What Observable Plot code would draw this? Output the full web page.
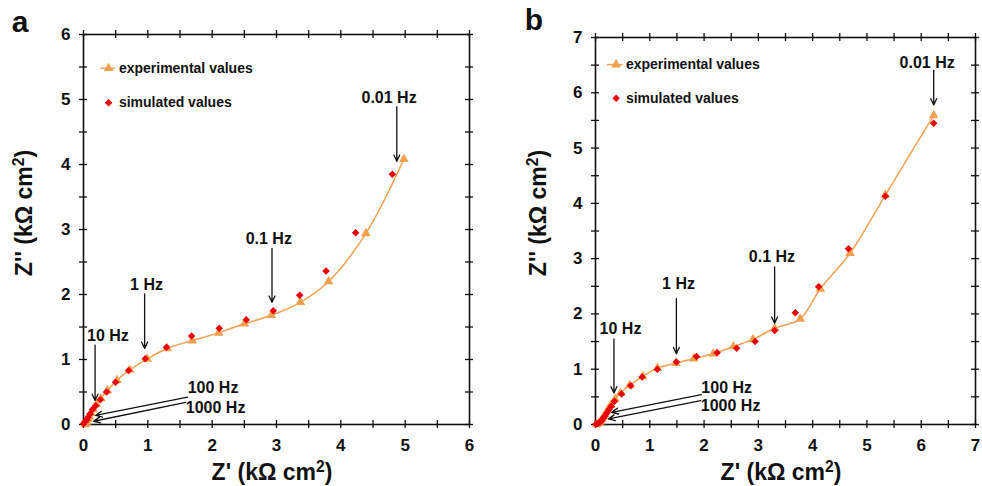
<!DOCTYPE html>
<html>
<head>
<meta charset="utf-8">
<script src="https://cdn.jsdelivr.net/npm/d3@7"></script>
<script src="https://cdn.jsdelivr.net/npm/@observablehq/plot@0.6"></script>
<style>
  html, body { margin: 0; padding: 0; background: #fff; }
  #wrap { position: relative; width: 982px; height: 486px; overflow: hidden; font-family: "Liberation Sans", Arial, sans-serif; }
  .panel { position: absolute; top: 0; }
  .lbl { position: absolute; font-weight: bold; color: #111; white-space: nowrap; line-height: 1; }
  .lbl sup { font-size: 0.68em; vertical-align: 0.5em; line-height: 0; }
  .xt { font-size: 23px; transform: translate(-50%, -50%); }
  .yt { font-size: 23px; transform: translate(-50%, -50%) rotate(-90deg); }
  .let { font-size: 30px; transform: translate(-50%, -50%); }
</style>
</head>
<body>
<div id="wrap">
  <div id="pa" class="panel" style="left:0px"></div>
  <div id="pb" class="panel" style="left:490px"></div>
  <div class="lbl let" style="left:20px; top:22px">a</div>
  <div class="lbl let" style="left:534px; top:20px">b</div>
  <div class="lbl xt" style="left:272px; top:472px">Z' (kΩ cm<sup>2</sup>)</div>
  <div class="lbl xt" style="left:781px; top:472px">Z' (kΩ cm<sup>2</sup>)</div>
  <div class="lbl yt" style="left:24px; top:213px">Z'' (kΩ cm<sup>2</sup>)</div>
  <div class="lbl yt" style="left:538px; top:213px">Z'' (kΩ cm<sup>2</sup>)</div>
</div>
<script>
// ---------- Panel a data ----------
const aExpX = [0.03,0.05,0.07,0.09,0.12,0.15,0.20,0.27,0.37,0.52,0.72,0.99,1.30,1.69,2.10,2.50,2.92,3.37,3.81,4.39,4.98];
const aExpY = [0.00,0.04,0.08,0.12,0.17,0.23,0.31,0.40,0.52,0.68,0.84,1.01,1.17,1.29,1.41,1.55,1.68,1.88,2.20,2.94,4.08];
const aSimX = [0.00,0.02,0.05,0.07,0.10,0.14,0.19,0.26,0.36,0.50,0.70,0.96,1.29,1.68,2.11,2.53,2.95,3.36,3.77,4.23,4.80];
const aSimY = [0.01,0.04,0.07,0.11,0.16,0.23,0.29,0.38,0.50,0.65,0.83,1.01,1.19,1.36,1.48,1.61,1.75,1.99,2.36,2.95,3.85];

// ---------- Panel b data ----------
const bExpX = [0.02,0.06,0.09,0.12,0.15,0.18,0.22,0.28,0.36,0.46,0.63,0.87,1.14,1.48,1.81,2.17,2.54,2.90,3.30,3.77,4.14,4.69,5.34,6.23];
const bExpY = [0.00,0.02,0.05,0.09,0.14,0.19,0.26,0.35,0.46,0.57,0.71,0.87,1.02,1.11,1.19,1.28,1.41,1.54,1.74,1.91,2.45,3.10,4.15,5.59];
const bSimX = [0.01,0.04,0.08,0.11,0.14,0.17,0.21,0.25,0.29,0.35,0.48,0.65,0.86,1.14,1.49,1.86,2.24,2.60,2.94,3.30,3.68,4.11,4.66,5.34,6.23];
const bSimY = [0.01,0.02,0.04,0.07,0.11,0.15,0.21,0.27,0.33,0.42,0.55,0.70,0.86,1.00,1.13,1.23,1.30,1.38,1.50,1.70,2.02,2.49,3.18,4.13,5.45];

// ---------- Frequency annotations ----------
const freqLabels = ["0.01 Hz", "0.1 Hz", "1 Hz", "10 Hz", "100 Hz", "1000 Hz"];
const freqAnchor = ["middle", "middle", "middle", "middle", "start", "start"];
const aLabelX = [4.75, 2.88, 0.98, 0.38, 1.62, 1.59];
const aLabelY = [5.02, 2.86, 2.15, 1.37, 0.56, 0.26];
const aArrX1 = [4.87, 2.93, 0.95, 0.18, 1.62, 1.59];
const aArrY1 = [4.89, 2.71, 2.01, 1.22, 0.42, 0.34];
const aArrX2 = [4.87, 2.93, 0.95, 0.18, 0.19, 0.16];
const aArrY2 = [4.05, 1.88, 1.17, 0.37, 0.14, 0.05];

const bLabelX = [6.11, 3.25, 1.53, 0.46, 1.95, 1.94];
const bLabelY = [6.55, 3.04, 2.55, 1.73, 0.67, 0.33];
const bArrX1 = [6.23, 3.30, 1.49, 0.34, 1.95, 1.94];
const bArrY1 = [6.41, 2.85, 2.28, 1.55, 0.54, 0.43];
const bArrX2 = [6.23, 3.30, 1.49, 0.34, 0.30, 0.24];
const bArrY2 = [5.78, 1.83, 1.28, 0.57, 0.22, 0.10];

// ---------- Legend ----------
const legendLabels = ["experimental values", "simulated values"];
const aLegend = {lineX1: 0.27, lineX2: 0.50, symX: 0.39, textX: 0.55, y: [5.48, 4.95]};
const bLegend = {lineX1: 0.22, lineX2: 0.51, symX: 0.38, textX: 0.56, y: [6.51, 5.90]};

// ---------- Axes ----------
const aMax = 6, bMax = 7;
const aTicks = d3.range(0, aMax + 1, 1);
const bTicks = d3.range(0, bMax + 1, 1);
const aMinor = d3.range(0, aMax + 0.01, 0.5);
const bMinor = d3.range(0, bMax + 0.01, 0.5);

const expColor = "#F0A050";
const simColor = "#E8000B";

function zip(xs, ys) { return xs.map((x, i) => ({x, y: ys[i]})); }

function panel(cfg) {
  const {width, height, mt, mr, mb, ml, max, ticks, minor, expX, expY, simX, simY,
         labX, labY, ax1, ay1, ax2, ay2, legend, curve} = cfg;
  const pw = width - ml - mr, ph = height - mt - mb;
  const exp = zip(expX, expY), sim = zip(simX, simY);
  const ann = freqLabels.map((t, i) => ({t, anchor: freqAnchor[i], x: labX[i], y: labY[i],
    x1: ax1[i], y1: ay1[i], x2: ax2[i], y2: ay2[i]}));
  const tk = 4;
  return Plot.plot({
    width, height, marginTop: mt, marginRight: mr, marginBottom: mb, marginLeft: ml,
    style: {fontFamily: "Liberation Sans, Arial, sans-serif", fontWeight: "bold", fontSize: "17px", color: "#111", background: "white", overflow: "visible"},
    x: {domain: [0, max]},
    y: {domain: [0, max]},
    marks: [
      Plot.axisX({ticks, tickSize: 0, tickPadding: 14, tickFormat: "d", label: null, fontSize: 17, fontWeight: "bold"}),
      Plot.axisY({ticks, tickSize: 0, tickPadding: 13, tickFormat: "d", label: null, fontSize: 17, fontWeight: "bold"}),
      // crossing ticks on all four sides
      Plot.ruleX(minor, {x: d => d, insetTop: ph - tk, insetBottom: -tk, stroke: "#111", strokeWidth: 1.3}),
      Plot.ruleX(minor, {x: d => d, insetTop: -tk, insetBottom: ph - tk, stroke: "#111", strokeWidth: 1.3}),
      Plot.ruleY(minor, {y: d => d, insetLeft: -tk, insetRight: pw - tk, stroke: "#111", strokeWidth: 1.3}),
      Plot.ruleY(minor, {y: d => d, insetLeft: pw - tk, insetRight: -tk, stroke: "#111", strokeWidth: 1.3}),
      Plot.frame({stroke: "#111", strokeWidth: 1.6}),
      // data
      Plot.line(exp, {x: "x", y: "y", stroke: expColor, strokeWidth: 1.5, curve}),
      Plot.dot(exp, {x: "x", y: "y", symbol: "triangle", r: 3.6, fill: expColor}),
      Plot.dot(sim, {x: "x", y: "y", symbol: "diamond2", r: 3.4, fill: simColor}),
      // annotations
      Plot.arrow(ann, {x1: "x1", y1: "y1", x2: "x2", y2: "y2", stroke: "#111", strokeWidth: 1.3, headLength: 8, headAngle: 50}),
      Plot.text(ann.filter(d => d.anchor === "middle"), {x: "x", y: "y", text: "t", textAnchor: "middle", fontSize: 16, fontWeight: "bold", fill: "#111"}),
      Plot.text(ann.filter(d => d.anchor === "start"), {x: "x", y: "y", text: "t", textAnchor: "start", fontSize: 16, fontWeight: "bold", fill: "#111"}),
      // legend
      Plot.ruleY([legend.y[0]], {y: d => d, x1: legend.lineX1, x2: legend.lineX2, stroke: expColor, strokeWidth: 1.5}),
      Plot.dot([legend.y[0]], {x: legend.symX, y: d => d, symbol: "triangle", r: 3.6, fill: expColor}),
      Plot.dot([legend.y[1]], {x: legend.symX, y: d => d, symbol: "diamond2", r: 3.4, fill: simColor}),
      Plot.text(legendLabels, {x: legend.textX, y: (d, i) => legend.y[i], text: d => d, textAnchor: "start", fontSize: 14, fontWeight: "bold", fill: "#111"})
    ]
  });
}

document.getElementById("pa").append(panel({
  width: 490, height: 486, mt: 34, mr: 21, mb: 62, ml: 83, max: aMax, ticks: aTicks, minor: aMinor,
  expX: aExpX, expY: aExpY, simX: aSimX, simY: aSimY,
  labX: aLabelX, labY: aLabelY, ax1: aArrX1, ay1: aArrY1, ax2: aArrX2, ay2: aArrY2,
  legend: aLegend, curve: "catmull-rom"
}));
document.getElementById("pb").append(panel({
  width: 492, height: 486, mt: 37, mr: 7, mb: 62, ml: 105, max: bMax, ticks: bTicks, minor: bMinor,
  expX: bExpX, expY: bExpY, simX: bSimX, simY: bSimY,
  labX: bLabelX, labY: bLabelY, ax1: bArrX1, ay1: bArrY1, ax2: bArrX2, ay2: bArrY2,
  legend: bLegend, curve: "catmull-rom"
}));
</script>
</body>
</html>
